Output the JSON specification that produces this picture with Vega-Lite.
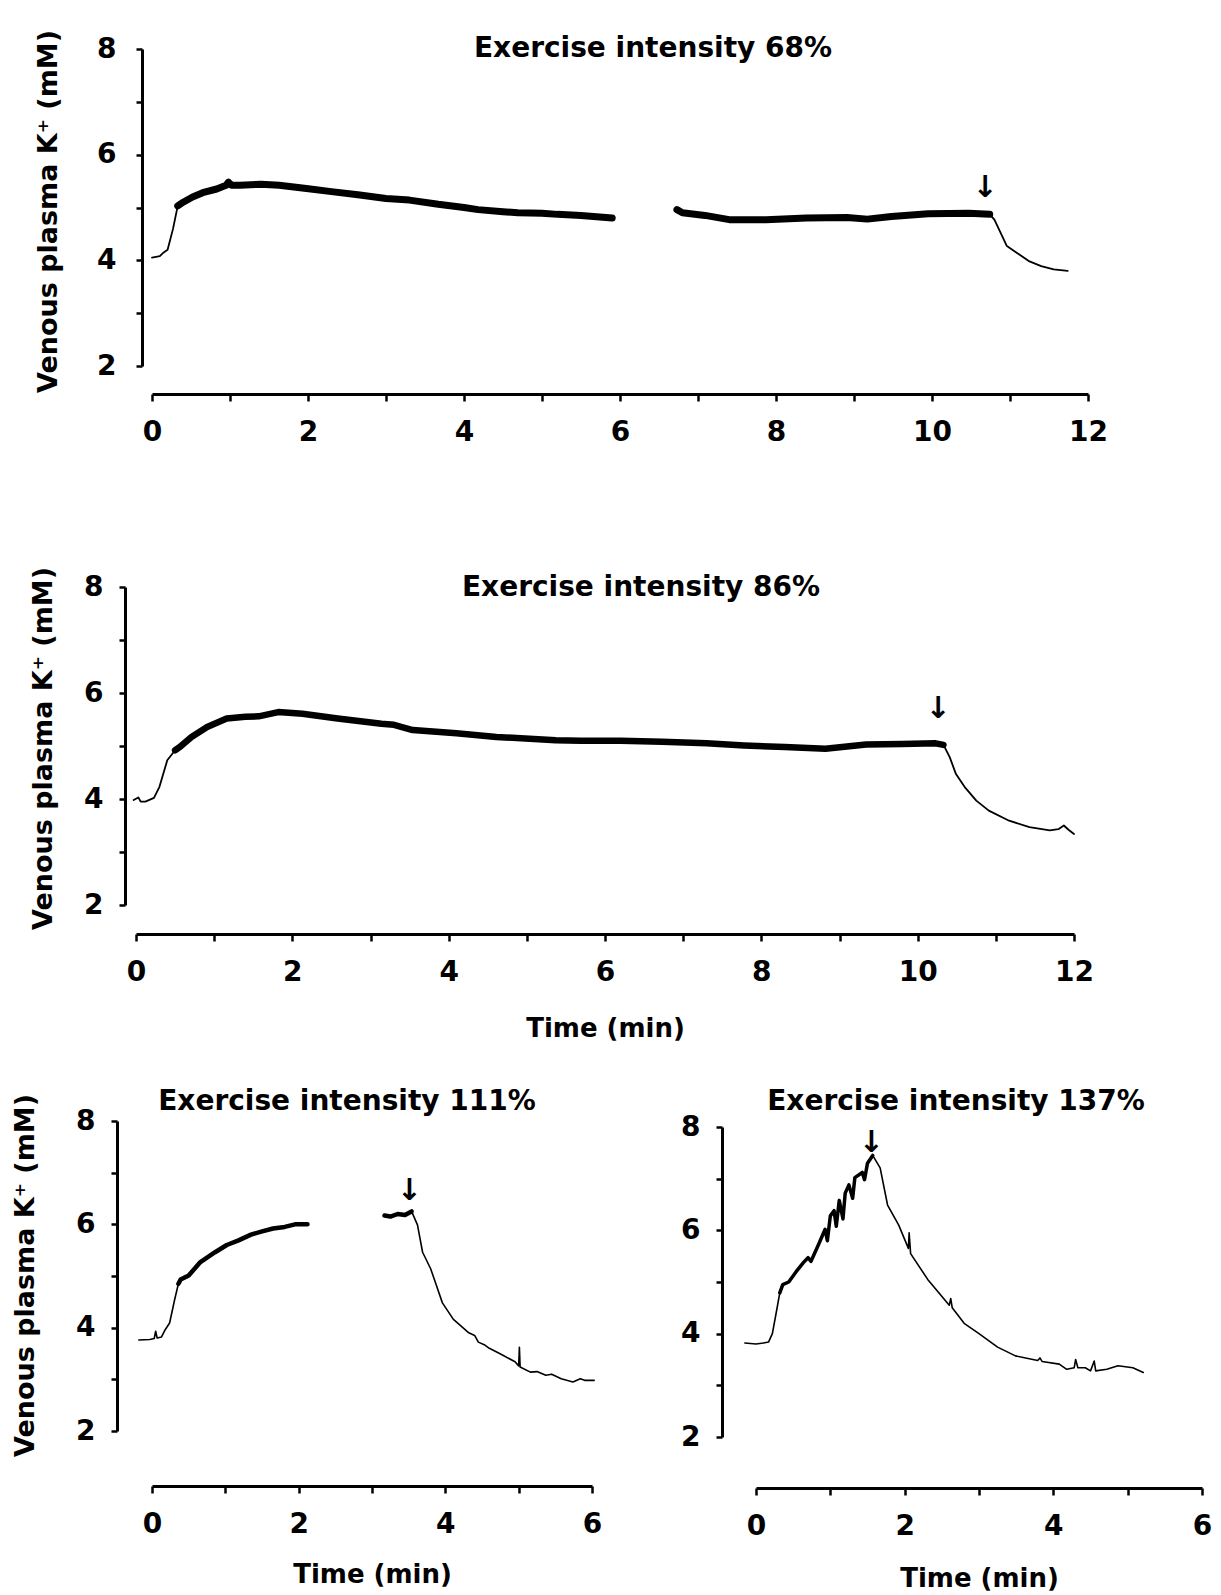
{
  "$schema": "https://vega.github.io/schema/vega-lite/v6.json",
  "background": "white",
  "padding": {"left": 10, "top": 29, "right": 5, "bottom": 5},
  "bounds": "flush",
  "spacing": 221,
  "resolve": {"scale": {"x": "independent", "y": "independent"}},
  "datasets": {
    "p68": [
      {"t": 0, "k": 4.05, "seg": "r", "phase": "rest"},
      {"t": 0.1, "k": 4.08, "seg": "r", "phase": "rest"},
      {"t": 0.15, "k": 4.15, "seg": "r", "phase": "rest"},
      {"t": 0.2, "k": 4.2, "seg": "r", "phase": "rest"},
      {"t": 0.27, "k": 4.6, "seg": "r", "phase": "rest"},
      {"t": 0.33, "k": 5.03, "seg": "r", "phase": "rest"},
      {"t": 0.33, "k": 5.03, "seg": "e1", "phase": "exercise"},
      {"t": 0.4, "k": 5.1, "seg": "e1", "phase": "exercise"},
      {"t": 0.52, "k": 5.2, "seg": "e1", "phase": "exercise"},
      {"t": 0.65, "k": 5.28, "seg": "e1", "phase": "exercise"},
      {"t": 0.83, "k": 5.35, "seg": "e1", "phase": "exercise"},
      {"t": 0.95, "k": 5.42, "seg": "e1", "phase": "exercise"},
      {"t": 0.98, "k": 5.48, "seg": "e1", "phase": "exercise"},
      {"t": 1.02, "k": 5.42, "seg": "e1", "phase": "exercise"},
      {"t": 1.13, "k": 5.42, "seg": "e1", "phase": "exercise"},
      {"t": 1.4, "k": 5.44, "seg": "e1", "phase": "exercise"},
      {"t": 1.63, "k": 5.42, "seg": "e1", "phase": "exercise"},
      {"t": 1.98, "k": 5.36, "seg": "e1", "phase": "exercise"},
      {"t": 2.3, "k": 5.3, "seg": "e1", "phase": "exercise"},
      {"t": 2.64, "k": 5.24, "seg": "e1", "phase": "exercise"},
      {"t": 3.0, "k": 5.17, "seg": "e1", "phase": "exercise"},
      {"t": 3.3, "k": 5.14, "seg": "e1", "phase": "exercise"},
      {"t": 3.67, "k": 5.06, "seg": "e1", "phase": "exercise"},
      {"t": 4.0, "k": 5.0, "seg": "e1", "phase": "exercise"},
      {"t": 4.18, "k": 4.96, "seg": "e1", "phase": "exercise"},
      {"t": 4.5, "k": 4.92, "seg": "e1", "phase": "exercise"},
      {"t": 4.69, "k": 4.9, "seg": "e1", "phase": "exercise"},
      {"t": 5.0, "k": 4.89, "seg": "e1", "phase": "exercise"},
      {"t": 5.2, "k": 4.87, "seg": "e1", "phase": "exercise"},
      {"t": 5.5, "k": 4.85, "seg": "e1", "phase": "exercise"},
      {"t": 5.9, "k": 4.8, "seg": "e1", "phase": "exercise"},
      {"t": 6.73, "k": 4.96, "seg": "e2", "phase": "exercise"},
      {"t": 6.8, "k": 4.9, "seg": "e2", "phase": "exercise"},
      {"t": 7.09, "k": 4.85, "seg": "e2", "phase": "exercise"},
      {"t": 7.4, "k": 4.77, "seg": "e2", "phase": "exercise"},
      {"t": 7.87, "k": 4.77, "seg": "e2", "phase": "exercise"},
      {"t": 8.39, "k": 4.8, "seg": "e2", "phase": "exercise"},
      {"t": 8.91, "k": 4.81, "seg": "e2", "phase": "exercise"},
      {"t": 9.17, "k": 4.78, "seg": "e2", "phase": "exercise"},
      {"t": 9.48, "k": 4.83, "seg": "e2", "phase": "exercise"},
      {"t": 9.95, "k": 4.88, "seg": "e2", "phase": "exercise"},
      {"t": 10.47, "k": 4.89, "seg": "e2", "phase": "exercise"},
      {"t": 10.74, "k": 4.87, "seg": "e2", "phase": "exercise"},
      {"t": 10.74, "k": 4.87, "seg": "c", "phase": "recovery"},
      {"t": 10.8, "k": 4.77, "seg": "c", "phase": "recovery"},
      {"t": 10.88, "k": 4.52, "seg": "c", "phase": "recovery"},
      {"t": 10.96, "k": 4.27, "seg": "c", "phase": "recovery"},
      {"t": 11.09, "k": 4.14, "seg": "c", "phase": "recovery"},
      {"t": 11.25, "k": 3.98, "seg": "c", "phase": "recovery"},
      {"t": 11.4, "k": 3.89, "seg": "c", "phase": "recovery"},
      {"t": 11.56, "k": 3.83, "seg": "c", "phase": "recovery"},
      {"t": 11.74, "k": 3.8, "seg": "c", "phase": "recovery"}
    ],
    "p86": [
      {"t": -0.03, "k": 3.98, "seg": "r", "phase": "rest"},
      {"t": 0.03, "k": 4.03, "seg": "r", "phase": "rest"},
      {"t": 0.06, "k": 3.95, "seg": "r", "phase": "rest"},
      {"t": 0.12, "k": 3.95, "seg": "r", "phase": "rest"},
      {"t": 0.23, "k": 4.02, "seg": "r", "phase": "rest"},
      {"t": 0.3, "k": 4.23, "seg": "r", "phase": "rest"},
      {"t": 0.4, "k": 4.73, "seg": "r", "phase": "rest"},
      {"t": 0.5, "k": 4.92, "seg": "r", "phase": "rest"},
      {"t": 0.5, "k": 4.92, "seg": "e", "phase": "exercise"},
      {"t": 0.56, "k": 4.98, "seg": "e", "phase": "exercise"},
      {"t": 0.71, "k": 5.17, "seg": "e", "phase": "exercise"},
      {"t": 0.91, "k": 5.36, "seg": "e", "phase": "exercise"},
      {"t": 1.16, "k": 5.52, "seg": "e", "phase": "exercise"},
      {"t": 1.4, "k": 5.55, "seg": "e", "phase": "exercise"},
      {"t": 1.57, "k": 5.56, "seg": "e", "phase": "exercise"},
      {"t": 1.82, "k": 5.64, "seg": "e", "phase": "exercise"},
      {"t": 2.13, "k": 5.61, "seg": "e", "phase": "exercise"},
      {"t": 2.58, "k": 5.52, "seg": "e", "phase": "exercise"},
      {"t": 3.14, "k": 5.42, "seg": "e", "phase": "exercise"},
      {"t": 3.3, "k": 5.4, "seg": "e", "phase": "exercise"},
      {"t": 3.54, "k": 5.3, "seg": "e", "phase": "exercise"},
      {"t": 4.1, "k": 5.24, "seg": "e", "phase": "exercise"},
      {"t": 4.61, "k": 5.17, "seg": "e", "phase": "exercise"},
      {"t": 5.37, "k": 5.11, "seg": "e", "phase": "exercise"},
      {"t": 5.69, "k": 5.1, "seg": "e", "phase": "exercise"},
      {"t": 6.2, "k": 5.1, "seg": "e", "phase": "exercise"},
      {"t": 6.73, "k": 5.08, "seg": "e", "phase": "exercise"},
      {"t": 7.3, "k": 5.05, "seg": "e", "phase": "exercise"},
      {"t": 7.78, "k": 5.01, "seg": "e", "phase": "exercise"},
      {"t": 8.3, "k": 4.98, "seg": "e", "phase": "exercise"},
      {"t": 8.82, "k": 4.95, "seg": "e", "phase": "exercise"},
      {"t": 9.34, "k": 5.03, "seg": "e", "phase": "exercise"},
      {"t": 9.8, "k": 5.04, "seg": "e", "phase": "exercise"},
      {"t": 10.23, "k": 5.05, "seg": "e", "phase": "exercise"},
      {"t": 10.33, "k": 5.02, "seg": "e", "phase": "exercise"},
      {"t": 10.33, "k": 5.02, "seg": "c", "phase": "recovery"},
      {"t": 10.41, "k": 4.79, "seg": "c", "phase": "recovery"},
      {"t": 10.49, "k": 4.47, "seg": "c", "phase": "recovery"},
      {"t": 10.6, "k": 4.23, "seg": "c", "phase": "recovery"},
      {"t": 10.75, "k": 3.97, "seg": "c", "phase": "recovery"},
      {"t": 10.91, "k": 3.78, "seg": "c", "phase": "recovery"},
      {"t": 11.17, "k": 3.59, "seg": "c", "phase": "recovery"},
      {"t": 11.43, "k": 3.47, "seg": "c", "phase": "recovery"},
      {"t": 11.69, "k": 3.41, "seg": "c", "phase": "recovery"},
      {"t": 11.8, "k": 3.43, "seg": "c", "phase": "recovery"},
      {"t": 11.87, "k": 3.5, "seg": "c", "phase": "recovery"},
      {"t": 11.93, "k": 3.42, "seg": "c", "phase": "recovery"},
      {"t": 12.0, "k": 3.34, "seg": "c", "phase": "recovery"}
    ],
    "p111": [
      {"t": -0.18, "k": 3.76, "seg": "r", "phase": "rest"},
      {"t": -0.03, "k": 3.77, "seg": "r", "phase": "rest"},
      {"t": 0.03, "k": 3.79, "seg": "r", "phase": "rest"},
      {"t": 0.05, "k": 3.93, "seg": "r", "phase": "rest"},
      {"t": 0.07, "k": 3.8, "seg": "r", "phase": "rest"},
      {"t": 0.13, "k": 3.82, "seg": "r", "phase": "rest"},
      {"t": 0.18, "k": 3.96, "seg": "r", "phase": "rest"},
      {"t": 0.24, "k": 4.09, "seg": "r", "phase": "rest"},
      {"t": 0.31, "k": 4.55, "seg": "r", "phase": "rest"},
      {"t": 0.36, "k": 4.85, "seg": "r", "phase": "rest"},
      {"t": 0.36, "k": 4.85, "seg": "e1", "phase": "exercise"},
      {"t": 0.39, "k": 4.93, "seg": "e1", "phase": "exercise"},
      {"t": 0.5, "k": 5.01, "seg": "e1", "phase": "exercise"},
      {"t": 0.66, "k": 5.27, "seg": "e1", "phase": "exercise"},
      {"t": 0.86, "k": 5.46, "seg": "e1", "phase": "exercise"},
      {"t": 1.02, "k": 5.6, "seg": "e1", "phase": "exercise"},
      {"t": 1.18, "k": 5.69, "seg": "e1", "phase": "exercise"},
      {"t": 1.35, "k": 5.8, "seg": "e1", "phase": "exercise"},
      {"t": 1.49, "k": 5.86, "seg": "e1", "phase": "exercise"},
      {"t": 1.65, "k": 5.92, "seg": "e1", "phase": "exercise"},
      {"t": 1.81, "k": 5.95, "seg": "e1", "phase": "exercise"},
      {"t": 1.95, "k": 6.0, "seg": "e1", "phase": "exercise"},
      {"t": 2.12, "k": 6.0, "seg": "e1", "phase": "exercise"},
      {"t": 3.17, "k": 6.17, "seg": "e2", "phase": "exercise"},
      {"t": 3.25, "k": 6.15, "seg": "e2", "phase": "exercise"},
      {"t": 3.35, "k": 6.2, "seg": "e2", "phase": "exercise"},
      {"t": 3.45, "k": 6.18, "seg": "e2", "phase": "exercise"},
      {"t": 3.54, "k": 6.25, "seg": "e2", "phase": "exercise"},
      {"t": 3.54, "k": 6.25, "seg": "c", "phase": "recovery"},
      {"t": 3.62, "k": 5.99, "seg": "c", "phase": "recovery"},
      {"t": 3.69, "k": 5.46, "seg": "c", "phase": "recovery"},
      {"t": 3.8, "k": 5.14, "seg": "c", "phase": "recovery"},
      {"t": 3.88, "k": 4.81, "seg": "c", "phase": "recovery"},
      {"t": 3.96, "k": 4.48, "seg": "c", "phase": "recovery"},
      {"t": 4.11, "k": 4.16, "seg": "c", "phase": "recovery"},
      {"t": 4.2, "k": 4.05, "seg": "c", "phase": "recovery"},
      {"t": 4.32, "k": 3.9, "seg": "c", "phase": "recovery"},
      {"t": 4.4, "k": 3.85, "seg": "c", "phase": "recovery"},
      {"t": 4.45, "k": 3.72, "seg": "c", "phase": "recovery"},
      {"t": 4.53, "k": 3.67, "seg": "c", "phase": "recovery"},
      {"t": 4.6, "k": 3.6, "seg": "c", "phase": "recovery"},
      {"t": 4.74, "k": 3.5, "seg": "c", "phase": "recovery"},
      {"t": 4.95, "k": 3.34, "seg": "c", "phase": "recovery"},
      {"t": 5.0, "k": 3.26, "seg": "c", "phase": "recovery"},
      {"t": 5.01, "k": 3.62, "seg": "c", "phase": "recovery"},
      {"t": 5.02, "k": 3.24, "seg": "c", "phase": "recovery"},
      {"t": 5.16, "k": 3.14, "seg": "c", "phase": "recovery"},
      {"t": 5.25, "k": 3.15, "seg": "c", "phase": "recovery"},
      {"t": 5.37, "k": 3.08, "seg": "c", "phase": "recovery"},
      {"t": 5.45, "k": 3.1, "seg": "c", "phase": "recovery"},
      {"t": 5.58, "k": 3.01, "seg": "c", "phase": "recovery"},
      {"t": 5.74, "k": 2.95, "seg": "c", "phase": "recovery"},
      {"t": 5.84, "k": 3.01, "seg": "c", "phase": "recovery"},
      {"t": 5.9, "k": 2.98, "seg": "c", "phase": "recovery"},
      {"t": 6.03, "k": 2.98, "seg": "c", "phase": "recovery"}
    ],
    "p137": [
      {"t": -0.15, "k": 3.82, "seg": "r", "phase": "rest"},
      {"t": 0.0, "k": 3.8, "seg": "r", "phase": "rest"},
      {"t": 0.1, "k": 3.82, "seg": "r", "phase": "rest"},
      {"t": 0.17, "k": 3.84, "seg": "r", "phase": "rest"},
      {"t": 0.22, "k": 4.0, "seg": "r", "phase": "rest"},
      {"t": 0.27, "k": 4.39, "seg": "r", "phase": "rest"},
      {"t": 0.32, "k": 4.79, "seg": "r", "phase": "rest"},
      {"t": 0.32, "k": 4.79, "seg": "e", "phase": "exercise"},
      {"t": 0.36, "k": 4.95, "seg": "e", "phase": "exercise"},
      {"t": 0.44, "k": 5.0, "seg": "e", "phase": "exercise"},
      {"t": 0.54, "k": 5.2, "seg": "e", "phase": "exercise"},
      {"t": 0.64, "k": 5.38, "seg": "e", "phase": "exercise"},
      {"t": 0.7, "k": 5.47, "seg": "e", "phase": "exercise"},
      {"t": 0.74, "k": 5.4, "seg": "e", "phase": "exercise"},
      {"t": 0.84, "k": 5.72, "seg": "e", "phase": "exercise"},
      {"t": 0.93, "k": 6.02, "seg": "e", "phase": "exercise"},
      {"t": 0.96, "k": 5.8, "seg": "e", "phase": "exercise"},
      {"t": 1.0, "k": 6.28, "seg": "e", "phase": "exercise"},
      {"t": 1.05, "k": 6.38, "seg": "e", "phase": "exercise"},
      {"t": 1.08, "k": 6.08, "seg": "e", "phase": "exercise"},
      {"t": 1.12, "k": 6.58, "seg": "e", "phase": "exercise"},
      {"t": 1.17, "k": 6.22, "seg": "e", "phase": "exercise"},
      {"t": 1.2, "k": 6.72, "seg": "e", "phase": "exercise"},
      {"t": 1.25, "k": 6.88, "seg": "e", "phase": "exercise"},
      {"t": 1.3, "k": 6.62, "seg": "e", "phase": "exercise"},
      {"t": 1.33, "k": 7.02, "seg": "e", "phase": "exercise"},
      {"t": 1.43, "k": 7.12, "seg": "e", "phase": "exercise"},
      {"t": 1.46, "k": 6.98, "seg": "e", "phase": "exercise"},
      {"t": 1.5, "k": 7.3, "seg": "e", "phase": "exercise"},
      {"t": 1.57, "k": 7.45, "seg": "e", "phase": "exercise"},
      {"t": 1.57, "k": 7.45, "seg": "c", "phase": "recovery"},
      {"t": 1.67, "k": 7.21, "seg": "c", "phase": "recovery"},
      {"t": 1.77, "k": 6.49, "seg": "c", "phase": "recovery"},
      {"t": 1.92, "k": 6.1, "seg": "c", "phase": "recovery"},
      {"t": 2.05, "k": 5.65, "seg": "c", "phase": "recovery"},
      {"t": 2.06, "k": 5.95, "seg": "c", "phase": "recovery"},
      {"t": 2.08, "k": 5.55, "seg": "c", "phase": "recovery"},
      {"t": 2.31, "k": 5.05, "seg": "c", "phase": "recovery"},
      {"t": 2.6, "k": 4.55, "seg": "c", "phase": "recovery"},
      {"t": 2.62, "k": 4.68, "seg": "c", "phase": "recovery"},
      {"t": 2.64, "k": 4.5, "seg": "c", "phase": "recovery"},
      {"t": 2.8, "k": 4.2, "seg": "c", "phase": "recovery"},
      {"t": 3.0, "k": 4.0, "seg": "c", "phase": "recovery"},
      {"t": 3.25, "k": 3.74, "seg": "c", "phase": "recovery"},
      {"t": 3.49, "k": 3.57, "seg": "c", "phase": "recovery"},
      {"t": 3.79, "k": 3.48, "seg": "c", "phase": "recovery"},
      {"t": 3.82, "k": 3.53, "seg": "c", "phase": "recovery"},
      {"t": 3.85, "k": 3.46, "seg": "c", "phase": "recovery"},
      {"t": 4.08, "k": 3.41, "seg": "c", "phase": "recovery"},
      {"t": 4.18, "k": 3.31, "seg": "c", "phase": "recovery"},
      {"t": 4.28, "k": 3.34, "seg": "c", "phase": "recovery"},
      {"t": 4.3, "k": 3.5, "seg": "c", "phase": "recovery"},
      {"t": 4.33, "k": 3.34, "seg": "c", "phase": "recovery"},
      {"t": 4.43, "k": 3.34, "seg": "c", "phase": "recovery"},
      {"t": 4.5, "k": 3.28, "seg": "c", "phase": "recovery"},
      {"t": 4.55, "k": 3.47, "seg": "c", "phase": "recovery"},
      {"t": 4.57, "k": 3.28, "seg": "c", "phase": "recovery"},
      {"t": 4.72, "k": 3.31, "seg": "c", "phase": "recovery"},
      {"t": 4.87, "k": 3.38, "seg": "c", "phase": "recovery"},
      {"t": 5.07, "k": 3.34, "seg": "c", "phase": "recovery"},
      {"t": 5.21, "k": 3.25, "seg": "c", "phase": "recovery"}
    ],
    "a68": [{"t": 10.68, "k": 5.19}],
    "a86": [{"t": 10.26, "k": 5.52}],
    "a111": [{"t": 3.51, "k": 6.48}],
    "a137": [{"t": 1.55, "k": 7.52}]
  },
  "vconcat": [
    {
      "width": 960, "height": 317,
      "title": {"text": "Exercise intensity 68%", "dx": 31, "dy": 38},
      "layer": [
        {
          "data": {"name": "p68"},
          "transform": [{"filter": "datum.phase != 'exercise'"}],
          "mark": {"type": "line", "color": "black", "strokeWidth": 1.8, "strokeCap": "round", "strokeJoin": "round"},
          "encoding": {
            "x": {"field": "t", "type": "quantitative", "scale": {"domain": [0, 12], "range": [10, 946], "nice": false, "zero": false},
                  "axis": {"values": [0,1,2,3,4,5,6,7,8,9,10,11,12], "offset": 28, "title": null}},
            "y": {"field": "k", "type": "quantitative", "scale": {"domain": [2, 8], "range": [317, 0], "nice": false, "zero": false},
                  "axis": {"values": [2,3,4,5,6,7,8], "offset": 0, "labelPadding": 20, "title": "Venous plasma K⁺ (mM)", "titleX": -94, "titleY": 162}},
            "detail": {"field": "seg"}
          }
        },
        {
          "data": {"name": "p68"},
          "transform": [{"filter": "datum.phase == 'exercise'"}],
          "mark": {"type": "line", "color": "black", "strokeWidth": 7, "strokeCap": "round", "strokeJoin": "round"},
          "encoding": {"x": {"field": "t", "type": "quantitative"}, "y": {"field": "k", "type": "quantitative"}, "detail": {"field": "seg"}}
        },
        {
          "data": {"name": "a68"},
          "mark": {"type": "text", "text": "↓", "font": "DejaVu Sans", "fontWeight": "bold", "fontSize": 30, "baseline": "alphabetic", "color": "black"},
          "encoding": {"x": {"field": "t", "type": "quantitative"}, "y": {"field": "k", "type": "quantitative"}}
        }
      ]
    },
    {
      "width": 960, "height": 318,
      "title": {"text": "Exercise intensity 86%", "dx": 19, "dy": 40},
      "layer": [
        {
          "data": {"name": "p86"},
          "transform": [{"filter": "datum.phase != 'exercise'"}],
          "mark": {"type": "line", "color": "black", "strokeWidth": 1.8, "strokeCap": "round", "strokeJoin": "round"},
          "encoding": {
            "x": {"field": "t", "type": "quantitative", "scale": {"domain": [0, 12], "range": [-6, 932], "nice": false, "zero": false},
                  "axis": {"values": [0,1,2,3,4,5,6,7,8,9,10,11,12], "offset": 29, "title": "Time (min)", "titleY": 102}},
            "y": {"field": "k", "type": "quantitative", "scale": {"domain": [2, 8], "range": [318, 0], "nice": false, "zero": false},
                  "axis": {"values": [2,3,4,5,6,7,8], "offset": 17, "title": "Venous plasma K⁺ (mM)", "titleX": -82, "titleY": 161}},
            "detail": {"field": "seg"}
          }
        },
        {
          "data": {"name": "p86"},
          "transform": [{"filter": "datum.phase == 'exercise'"}],
          "mark": {"type": "line", "color": "black", "strokeWidth": 6.5, "strokeCap": "round", "strokeJoin": "round"},
          "encoding": {"x": {"field": "t", "type": "quantitative"}, "y": {"field": "k", "type": "quantitative"}, "detail": {"field": "seg"}}
        },
        {
          "data": {"name": "a86"},
          "mark": {"type": "text", "text": "↓", "font": "DejaVu Sans", "fontWeight": "bold", "fontSize": 30, "baseline": "alphabetic", "color": "black"},
          "encoding": {"x": {"field": "t", "type": "quantitative"}, "y": {"field": "k", "type": "quantitative"}}
        }
      ]
    },
    {
      "bounds": "flush",
      "spacing": 120,
      "resolve": {"scale": {"x": "independent", "y": "independent"}},
      "hconcat": [
        {
          "width": 460, "height": 305,
          "title": {"text": "Exercise intensity 111%", "dx": -25, "dy": 27},
          "layer": [
            {
              "data": {"name": "p111"},
              "transform": [{"filter": "datum.phase != 'exercise'"}],
              "mark": {"type": "line", "color": "black", "strokeWidth": 1.6, "strokeCap": "round", "strokeJoin": "round"},
              "encoding": {
                "x": {"field": "t", "type": "quantitative", "scale": {"domain": [0, 6], "range": [10, 450], "nice": false, "zero": false},
                      "axis": {"values": [0,1,2,3,4,5,6], "offset": 55, "title": "Time (min)", "titleY": 96}},
                "y": {"field": "k", "type": "quantitative", "scale": {"domain": [2, 8], "range": [305, -5], "nice": false, "zero": false},
                      "axis": {"values": [2,3,4,5,6,7,8], "offset": 25, "title": "Venous plasma K⁺ (mM)", "titleX": -92, "titleY": 149}},
                "detail": {"field": "seg"}
              }
            },
            {
              "data": {"name": "p111"},
              "transform": [{"filter": "datum.phase == 'exercise'"}],
              "mark": {"type": "line", "color": "black", "strokeWidth": 4.5, "strokeCap": "round", "strokeJoin": "round"},
              "encoding": {"x": {"field": "t", "type": "quantitative"}, "y": {"field": "k", "type": "quantitative"}, "detail": {"field": "seg"}}
            },
            {
              "data": {"name": "a111"},
              "mark": {"type": "text", "text": "↓", "font": "DejaVu Sans", "fontWeight": "bold", "fontSize": 30, "baseline": "alphabetic", "color": "black"},
              "encoding": {"x": {"field": "t", "type": "quantitative"}, "y": {"field": "k", "type": "quantitative"}}
            }
          ]
        },
        {
          "width": 490, "height": 311,
          "title": {"text": "Exercise intensity 137%", "dx": -11, "dy": 7},
          "layer": [
            {
              "data": {"name": "p137"},
              "transform": [{"filter": "datum.phase != 'exercise'"}],
              "mark": {"type": "line", "color": "black", "strokeWidth": 1.6, "strokeCap": "round", "strokeJoin": "round"},
              "encoding": {
                "x": {"field": "t", "type": "quantitative", "scale": {"domain": [0, 6], "range": [34, 480], "nice": false, "zero": false},
                      "axis": {"values": [0,1,2,3,4,5,6], "offset": 51, "title": "Time (min)", "titleY": 98}},
                "y": {"field": "k", "type": "quantitative", "scale": {"domain": [2, 8], "range": [311, 1], "nice": false, "zero": false},
                      "axis": {"values": [2,3,4,5,6,7,8], "offset": 0, "title": null}},
                "detail": {"field": "seg"}
              }
            },
            {
              "data": {"name": "p137"},
              "transform": [{"filter": "datum.phase == 'exercise'"}],
              "mark": {"type": "line", "color": "black", "strokeWidth": 3.5, "strokeCap": "round", "strokeJoin": "round"},
              "encoding": {"x": {"field": "t", "type": "quantitative"}, "y": {"field": "k", "type": "quantitative"}, "detail": {"field": "seg"}}
            },
            {
              "data": {"name": "a137"},
              "mark": {"type": "text", "text": "↓", "font": "DejaVu Sans", "fontWeight": "bold", "fontSize": 30, "baseline": "alphabetic", "color": "black"},
              "encoding": {"x": {"field": "t", "type": "quantitative"}, "y": {"field": "k", "type": "quantitative"}}
            }
          ]
        }
      ]
    }
  ],
  "config": {
    "view": {"stroke": null},
    "axis": {
      "grid": false,
      "domainColor": "black", "domainWidth": 3,
      "tickColor": "black", "tickWidth": 2.5,
      "format": "d",
      "labelFont": "DejaVu Sans", "labelFontWeight": "bold", "labelFontSize": 28, "labelColor": "black",
      "labelFlush": false, "labelOverlap": false,
      "labelExpr": "datum.value % 2 == 0 ? datum.label : ''",
      "titleFont": "DejaVu Sans", "titleFontWeight": "bold", "titleColor": "black"
    },
    "axisX": {"tickSize": 7, "labelPadding": 17, "titleFontSize": 26, "titleBaseline": "alphabetic"},
    "axisY": {"tickSize": 6, "labelPadding": 16, "titleFontSize": 27, "titleBaseline": "middle", "titleAngle": -90},
    "title": {"font": "DejaVu Sans", "fontSize": 28, "fontWeight": "bold", "color": "black", "anchor": "middle", "frame": "group", "offset": 0, "baseline": "alphabetic"}
  }
}
